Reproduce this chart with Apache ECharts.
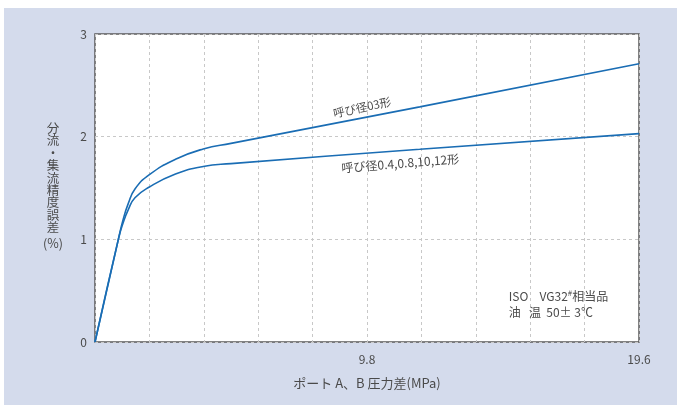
<!DOCTYPE html>
<html>
<head>
<meta charset="utf-8">
<script src="https://cdn.jsdelivr.net/npm/echarts@6/dist/echarts.min.js"></script>
<style>
html,body{margin:0;padding:0;background:#fff;}
#bg{position:absolute;left:4px;top:8px;width:673px;height:397px;background:#d4dbec;}
#chart{position:absolute;left:0;top:0;width:677px;height:405px;}
</style>
</head>
<body>
<div id="bg"></div>
<div id="chart"></div>
<script>
// ---- data ----
const xTickLabels = ['9.8', '19.6'];
const yTickLabels = ['0', '1', '2', '3'];
const seriesNames = ['呼び径03形', '呼び径0.4,0.8,10,12形'];
const size03 = [
  [0, 0], [0.85, 1.01], [1.0, 1.18], [1.2, 1.35], [1.44, 1.49], [1.96, 1.63],
  [2.9, 1.78], [3.9, 1.88], [4.9, 1.935], [11.7, 2.29], [19.6, 2.71]
];
const size04to12 = [
  [0, 0], [0.85, 1.01], [1.0, 1.15], [1.2, 1.29], [1.44, 1.405], [1.96, 1.51],
  [2.9, 1.636], [3.9, 1.71], [4.9, 1.737], [11.7, 1.877], [19.6, 2.03]
];
const yAxisNameChars = ['分', '流', '・', '集', '流', '精', '度', '誤', '差'];
const yAxisUnit = '(%)';
const xAxisName = 'ポート A、B 圧力差(MPa)';
const noteLine1 = ['ISO\u2002\u2009 VG32', '#', '相当品'];
const noteLine2 = '油   温  50± 3℃';

const FONT = '"Noto Sans CJK JP", "Noto Sans", sans-serif';
const TXT = '#4a4a4a';
const LINE = '#1a6db4';

const chart = echarts.init(document.getElementById('chart'));
chart.setOption({
  animation: false,
  textStyle: { fontFamily: FONT },
  grid: {
    left: 95, right: 38, top: 34, bottom: 63,
    show: true, backgroundColor: '#ffffff', borderColor: '#5a5a5a', borderWidth: 1.5
  },
  xAxis: {
    type: 'value', min: 0, max: 19.6, interval: 1.96,
    axisLine: { show: false }, axisTick: { show: false },
    splitLine: { show: true, lineStyle: { color: '#c8c8c8', type: [3, 3], width: 1 } },
    axisLabel: {
      margin: 11, color: TXT, fontSize: 12, fontFamily: FONT,
      showMinLabel: true, showMaxLabel: true,
      formatter: function (v) {
        const s = String(Math.round(v * 100) / 100);
        return xTickLabels.indexOf(s) >= 0 ? s : '';
      }
    },
    name: xAxisName, nameLocation: 'middle', nameGap: 35,
    nameTextStyle: { color: TXT, fontSize: 13, fontFamily: FONT }
  },
  yAxis: {
    type: 'value', min: 0, max: 3, interval: 1,
    axisLine: { show: false }, axisTick: { show: false },
    splitLine: { show: true, lineStyle: { color: '#c8c8c8', type: [3, 3], width: 1 } },
    axisLabel: {
      margin: 8, color: TXT, fontSize: 12, fontFamily: FONT, padding: [12, 0, 0, 0],
      formatter: function (v, i) { return yTickLabels[i] !== undefined ? yTickLabels[i] : String(v); }
    }
  },
  series: [
    { name: seriesNames[0], type: 'line', data: size03, showSymbol: false, smooth: 0.5,
      lineStyle: { color: LINE, width: 1.6 }, z: 3 },
    { name: seriesNames[1], type: 'line', data: size04to12, showSymbol: false, smooth: 0.5,
      lineStyle: { color: LINE, width: 1.6 }, z: 3 }
  ]
});

function px(x, y) { return chart.convertToPixel({ gridIndex: 0 }, [x, y]); }
const a1 = px(9.62, 2.285);
const a2 = px(11.0, 1.74);
const n1 = px(14.91, 0.44);
const n2 = px(14.91, 0.285);

chart.setOption({
  graphic: [
    { type: 'text', x: a1[0], y: a1[1], rotation: 12 * Math.PI / 180, z: 10,
      style: { text: seriesNames[0], fill: TXT, font: '11.5px ' + FONT, align: 'center', verticalAlign: 'middle' } },
    { type: 'text', x: a2[0], y: a2[1], rotation: 4.5 * Math.PI / 180, z: 10,
      style: { text: seriesNames[1], fill: TXT, font: '12px ' + FONT, align: 'center', verticalAlign: 'middle' } },
    { type: 'text', x: n1[0], y: n1[1], z: 10,
      style: {
        text: '{a|' + noteLine1[0] + '}{s|' + noteLine1[1] + '}{a|' + noteLine1[2] + '}',
        align: 'left', verticalAlign: 'middle',
        rich: {
          a: { fontSize: 12, fontFamily: FONT, fill: TXT, color: TXT },
          s: { fontSize: 8, fontFamily: FONT, fill: TXT, color: TXT, padding: [0, 0, 8, 0] }
        }
      } },
    { type: 'text', x: n2[0], y: n2[1], z: 10,
      style: { text: noteLine2, fill: TXT, font: '12px ' + FONT, align: 'left', verticalAlign: 'middle' } },
    { type: 'text', x: 53, y: 122, z: 10,
      style: { text: yAxisNameChars.join('\n'), fill: TXT, font: '12.5px ' + FONT, lineHeight: 12.4,
        align: 'center', verticalAlign: 'top' } },
    { type: 'text', x: 53, y: 243, z: 10,
      style: { text: yAxisUnit, fill: TXT, font: '12.5px ' + FONT, align: 'center', verticalAlign: 'middle' } }
  ]
});
</script>
</body>
</html>
